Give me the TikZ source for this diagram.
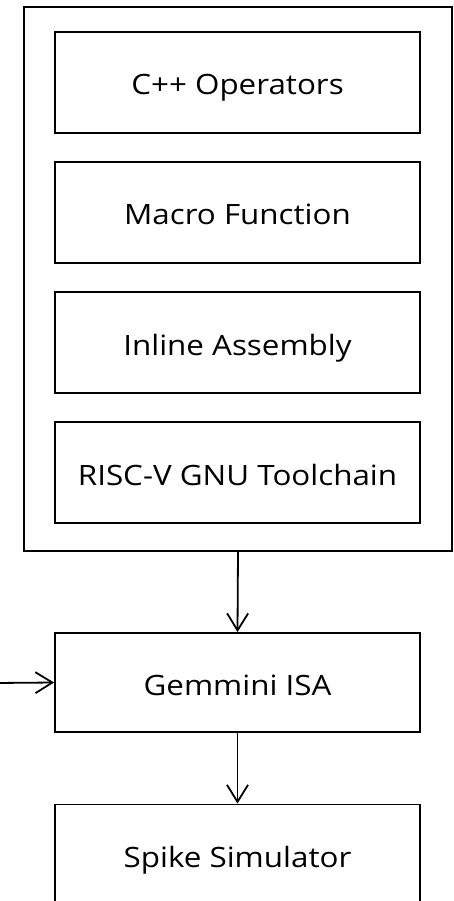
\documentclass[tikz,border=0pt]{standalone}
\usepackage{fontspec}
\setmainfont[FakeStretch=1.12]{Open Sans}
\usetikzlibrary{arrows.meta}
\begin{document}
\begin{tikzpicture}[x=1pt,y=-1pt,
  box/.style={draw, line width=1.8pt, minimum width=365pt, minimum height=101pt, inner sep=0pt, text height=25pt, text depth=0pt, font=\fontsize{28}{33}\selectfont},
  conn/.style={line width=1.8pt, -{Straight Barb[length=17pt,width=21pt,line width=1.8pt]}}]
\useasboundingbox (0,0) rectangle (454,901);
\node[draw, line width=1.8pt, minimum width=428pt, minimum height=544pt, inner sep=0pt] (outer) at (238,279) {};
\node[box] (cpp) at (237.5,82.5) {C++ Operators};
\node[box] (macro) at (237.5,212.5) {Macro Function};
\node[box] (inline) at (237.5,342.5) {Inline Assembly};
\node[box] (gnu) at (237.5,472.5) {RISC-V GNU Toolchain};
\node[box, minimum height=99pt] (gem) at (237.5,682.5) {Gemmini ISA};
\node[box] (spike) at (237.5,855) {Spike Simulator};
\coordinate (in) at (-5,683);
\draw[conn] (outer.south) -- (gem.north);
\draw[conn] (gem.south) -- (spike.north);
\draw[conn] (in) -- (gem.west);
\end{tikzpicture}
\end{document}
